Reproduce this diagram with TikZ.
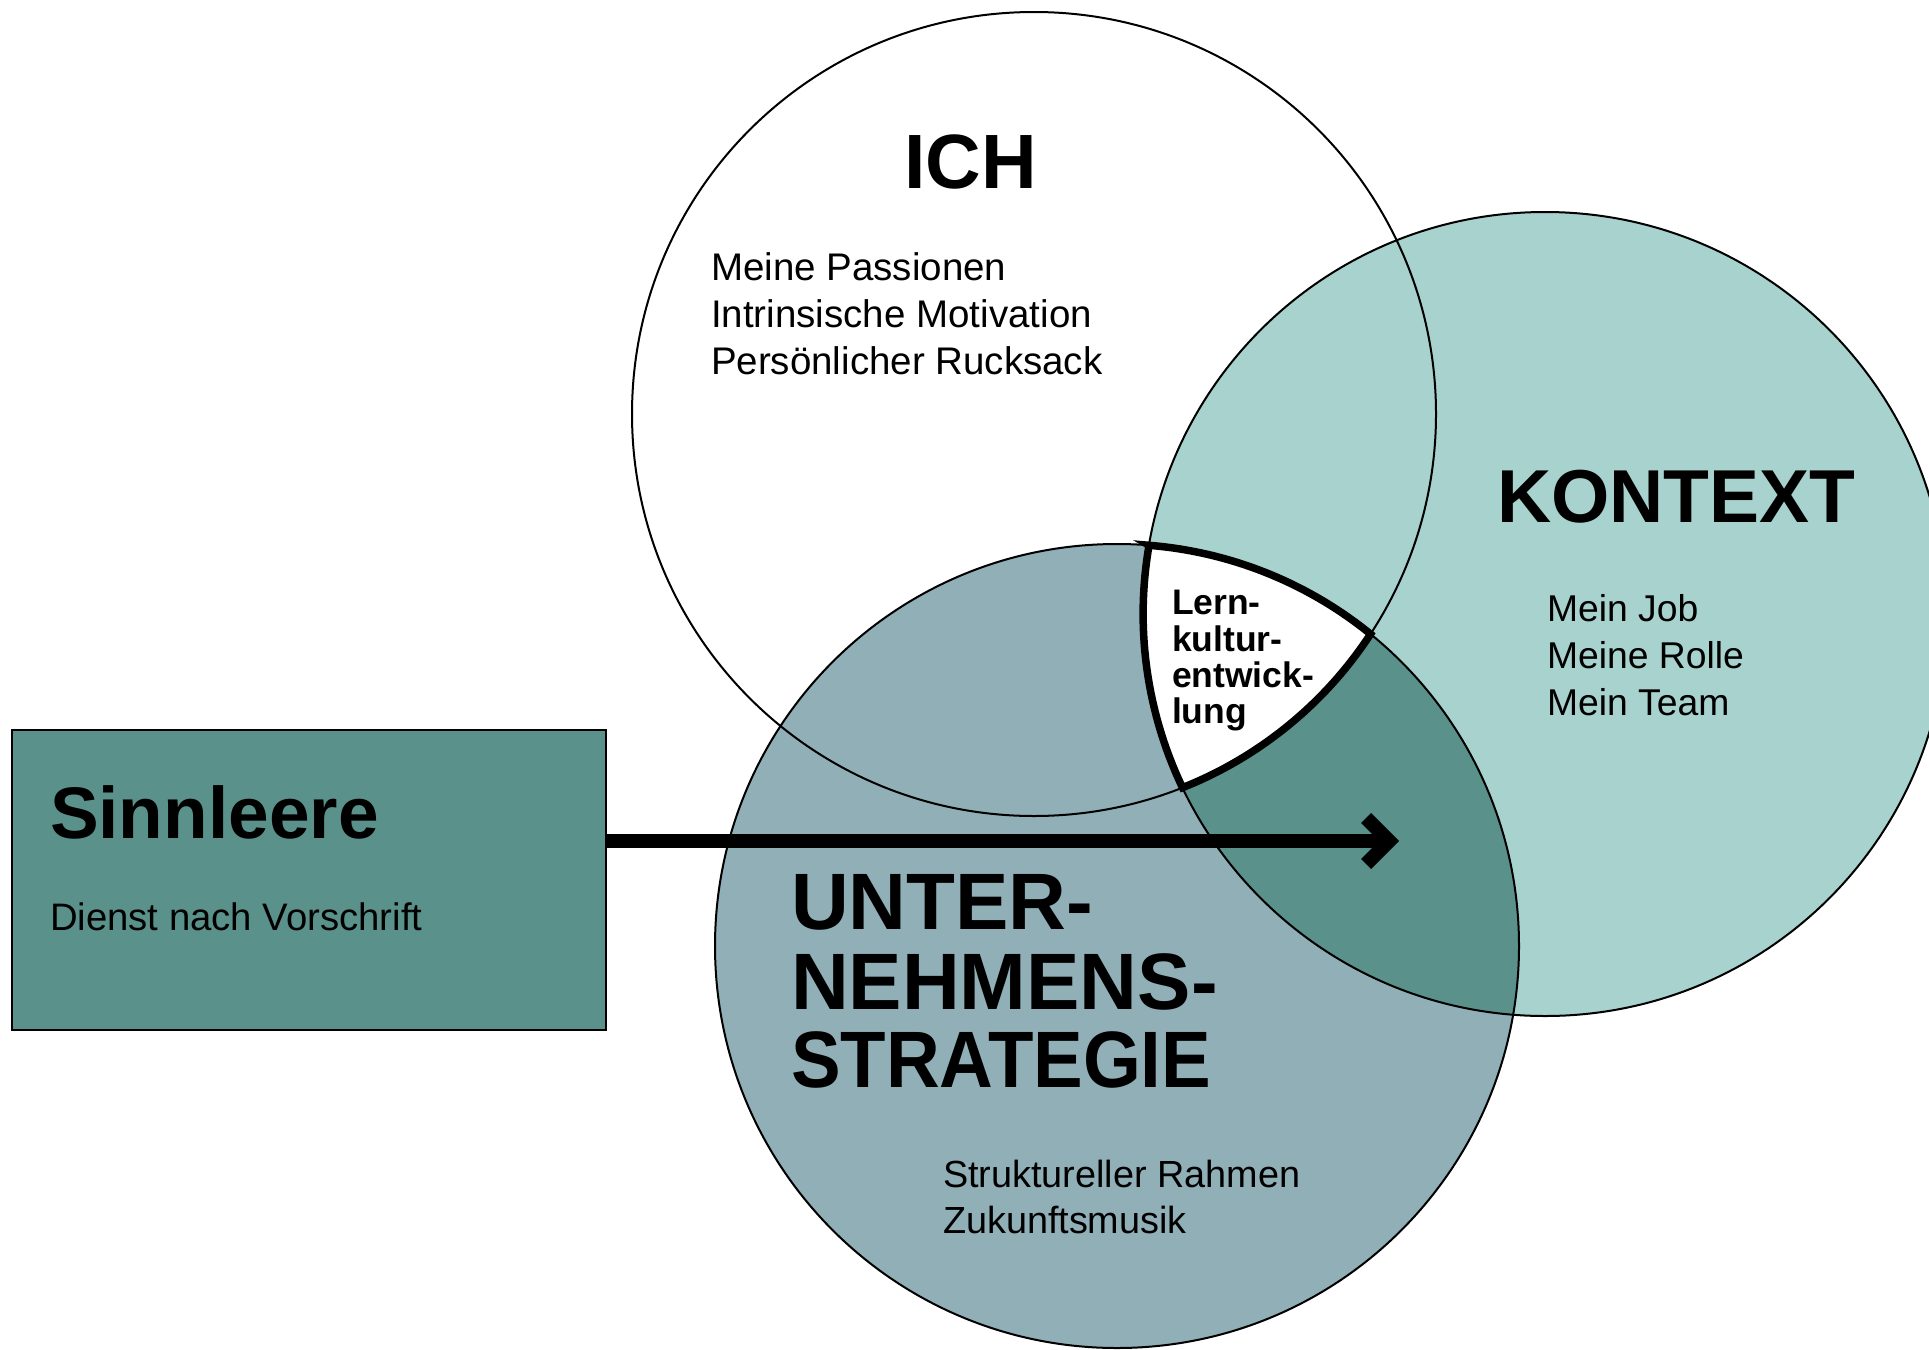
\documentclass[tikz,border=0pt]{standalone}
\usepackage{fontspec}
\setmainfont{Liberation Sans}
\newfontfamily\condfont[FakeStretch=0.93]{Liberation Sans}
\usetikzlibrary{arrows.meta}
\definecolor{kontextcol}{HTML}{A7D2CD}
\definecolor{untercol}{HTML}{90AFB7}
\definecolor{darkcol}{HTML}{5A918B}
\tikzset{
  lbl/.style={inner sep=0pt, outer sep=0pt, anchor=base west, text=black},
  ringline/.style={draw=black, line width=2pt},
  coreline/.style={draw=black, line width=7.5pt, line join=miter},
  bigarrow/.style={draw=black, line width=14pt, -{Straight Barb[length=23pt,width=46pt]}},
}
\begin{document}
\begin{tikzpicture}[x=1pt,y=-1pt]
\useasboundingbox (0,0) rectangle (1929,1349);
\fill[white] (0,0) rectangle (1929,1349);
\coordinate (ci) at (1034,414);
\coordinate (ck) at (1545,614);
\coordinate (cu) at (1117,946);
% fills
\fill[untercol] (cu) circle[radius=402];
\fill[kontextcol] (ck) circle[radius=402];
\begin{scope}
  \clip (ck) circle[radius=402];
  \fill[darkcol] (cu) circle[radius=402];
\end{scope}
\coordinate (ca) at (1148.9,545.3);
\fill[white] (ca) arc[start angle=-85.45, end angle=-50.9, radius=402]
  arc[start angle=33.18, end angle=68.33, radius=402]
  arc[start angle=154.42, end angle=189.84, radius=402] -- cycle;
% outlines
\draw[ringline] (ci) circle[radius=402];
\draw[ringline] (ck) circle[radius=402];
\draw[ringline] (cu) circle[radius=402];
\draw[coreline] (ca) arc[start angle=-85.45, end angle=-50.9, radius=402]
  arc[start angle=33.18, end angle=68.33, radius=402]
  arc[start angle=154.42, end angle=189.84, radius=402] -- cycle;
% ICH
\node[lbl, font=\bfseries\fontsize{77}{77}\selectfont] (ich) at (904,188) {ICH};
\node[lbl, font=\fontsize{38.5}{46}\selectfont] (ich1) at (711,280) {Meine Passionen};
\node[lbl, font=\fontsize{38.5}{46}\selectfont] (ich2) at (711,327) {Intrinsische Motivation};
\node[lbl, font=\fontsize{38.5}{46}\selectfont] (ich3) at (711,374) {Persönlicher Rucksack};
% KONTEXT
\node[lbl, font=\bfseries\fontsize{75}{75}\selectfont] (kon) at (1497,522) {KONTEXT};
\node[lbl, font=\fontsize{37.3}{46}\selectfont] (kon1) at (1547,621) {Mein Job};
\node[lbl, font=\fontsize{37.3}{46}\selectfont] (kon2) at (1547,668) {Meine Rolle};
\node[lbl, font=\fontsize{37.3}{46}\selectfont] (kon3) at (1547,715) {Mein Team};
% UNTERNEHMENSSTRATEGIE
\node[lbl, font=\bfseries\fontsize{80}{80}\selectfont] (un1) at (791,929) {UNTER-};
\node[lbl, font=\bfseries\fontsize{80}{80}\selectfont] (un2) at (791,1009) {NEHMENS-};
\node[lbl, font=\condfont\bfseries\fontsize{80}{80}\selectfont] (un3) at (791,1087) {STRATEGIE};
\node[lbl, font=\fontsize{37.8}{46}\selectfont] (unb1) at (943,1187) {Struktureller Rahmen};
\node[lbl, font=\fontsize{37.8}{46}\selectfont] (unb2) at (943,1233) {Zukunftsmusik};
% Lernkulturentwicklung
\node[lbl, font=\bfseries\fontsize{35.5}{36}\selectfont] (lk1) at (1172,614) {Lern-};
\node[lbl, font=\bfseries\fontsize{35.5}{36}\selectfont] (lk2) at (1172,651) {kultur-};
\node[lbl, font=\bfseries\fontsize{35.5}{36}\selectfont] (lk3) at (1172,687) {entwick-};
\node[lbl, font=\bfseries\fontsize{35.5}{36}\selectfont] (lk4) at (1172,723) {lung};
% Sinnleere box
\node[draw=black, line width=2pt, fill=darkcol, minimum width=594pt, minimum height=300pt,
  inner sep=0pt, outer sep=0pt, anchor=north west] (sinn) at (12,730) {};
\node[lbl, font=\bfseries\fontsize{73}{73}\selectfont] (sinnt) at (50,838) {Sinnleere};
\node[lbl, font=\fontsize{38.3}{46}\selectfont] (sinnb) at (50,930) {Dienst nach Vorschrift};
% arrow
\coordinate (arrowtip) at (1399,841);
\draw[bigarrow] (sinn.east |- arrowtip) -- (arrowtip);
\end{tikzpicture}
\end{document}
